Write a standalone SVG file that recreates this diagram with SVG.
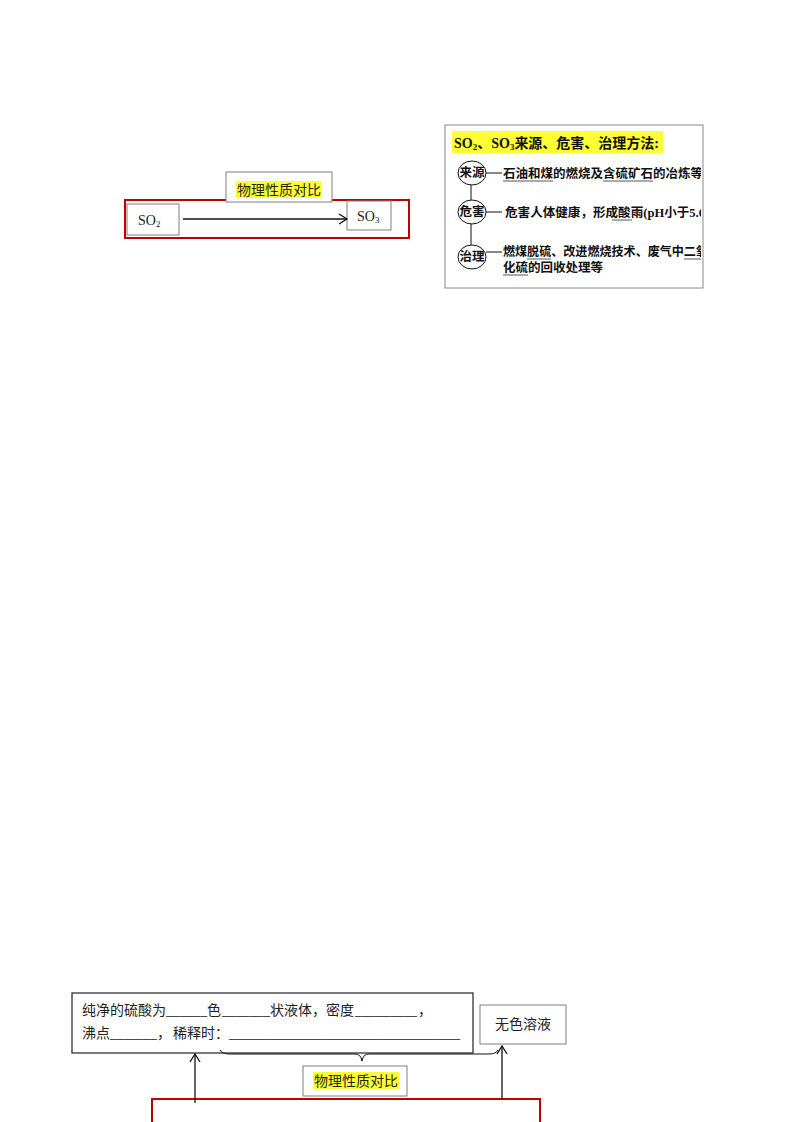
<svg xmlns="http://www.w3.org/2000/svg" width="794" height="1122" viewBox="0 0 794 1122">
<style>
.box{fill:#fff;stroke:#7f7f7f;stroke-width:1}
.dbox{fill:#fff;stroke:#333;stroke-width:1.3}
.red{fill:none;stroke:#c00000;stroke-width:2}
.hl{fill:#ffff33}
.t{font-family:"Liberation Serif","Noto Sans CJK SC",serif;font-size:14px;fill:#222}
.cjk{font-family:"Noto Sans CJK SC",sans-serif;font-size:14px;fill:#222}
.pt{font-family:"Liberation Serif","Noto Sans CJK SC",serif;font-size:12.5px;fill:#111;font-weight:600}
.ln{stroke:#111;stroke-width:1;fill:none}
.ul{stroke:#444;stroke-width:0.9}
.conn{stroke:#111;stroke-width:1.3;fill:none}
</style>
<defs>
<marker id="open" markerWidth="12" markerHeight="12" refX="10" refY="6" orient="auto" markerUnits="userSpaceOnUse">
<path d="M2,1 L10,6 L2,11" fill="none" stroke="#111" stroke-width="1.3"/>
</marker>
<clipPath id="pclip"><rect x="445" y="125" width="256" height="163"/></clipPath>
</defs>
<rect width="794" height="1122" fill="#fff"/>

<!-- top-left section -->
<g id="top-frame"><rect class="red" x="125" y="200" width="284" height="38"/></g>
<g id="top-label">
<rect class="box" x="226" y="172" width="106" height="30"/>
<rect class="hl" x="236" y="181" width="85" height="17"/>
<text class="cjk" x="279" y="195" text-anchor="middle">物理性质对比</text>
</g>
<g id="so2">
<rect class="box" x="127" y="204" width="52" height="31"/>
<text class="t" x="138" y="225" font-size="13" fill="#111">SO<tspan font-size="9" dy="2">2</tspan></text>
</g>
<g id="so3">
<rect class="box" x="347" y="201" width="44" height="29"/>
<text class="t" x="357" y="221" font-size="13" fill="#111">SO<tspan font-size="9" dy="2">3</tspan></text>
</g>
<g id="top-connectors">
<line class="conn" x1="183" y1="219" x2="347" y2="219" marker-end="url(#open)"/>
</g>

<!-- right panel -->
<g id="panel">
<rect x="445" y="125" width="258" height="163" fill="#fff" stroke="#888" stroke-width="1"/>
<rect class="hl" x="452" y="131" width="211" height="22"/>
<text x="454" y="148" font-family="Liberation Serif, 'Noto Sans CJK SC', serif" font-size="14" font-weight="bold" fill="#111">SO<tspan font-size="9" dy="2">2</tspan><tspan dy="-2">、SO</tspan><tspan font-size="9" dy="2">3</tspan><tspan dy="-2">来源、危害、治理方法:</tspan></text>
<g clip-path="url(#pclip)">
<line class="ln" x1="471" y1="184" x2="471" y2="200"/>
<line class="ln" x1="471" y1="223" x2="471" y2="245"/>
<g id="src">
<ellipse cx="472" cy="173" rx="14" ry="12" fill="#fff" stroke="#111"/>
<text class="pt" x="472" y="177" text-anchor="middle" font-size="11.5" font-weight="normal">来源</text>
<line class="ln" x1="486" y1="173" x2="502" y2="173"/>
<text class="pt" x="503" y="178">石油和煤的燃烧及含硫矿石的冶炼等</text>
<line class="ul" x1="503" y1="181" x2="553" y2="181"/>
<line class="ul" x1="603" y1="181" x2="653" y2="181"/>
</g>
<g id="harm">
<ellipse cx="472" cy="212" rx="14" ry="12" fill="#fff" stroke="#111"/>
<text class="pt" x="472" y="216" text-anchor="middle" font-size="11.5" font-weight="normal">危害</text>
<line class="ln" x1="486" y1="212" x2="502" y2="212"/>
<text class="pt" x="505" y="217" textLength="200" lengthAdjust="spacingAndGlyphs">危害人体健康，形成酸雨(pH小于5.6</text>
<line class="ul" x1="612" y1="220" x2="632" y2="220"/>
</g>
<g id="treat">
<ellipse cx="472" cy="257" rx="14" ry="12" fill="#fff" stroke="#111"/>
<text class="pt" x="472" y="261" text-anchor="middle" font-size="11.5" font-weight="normal">治理</text>
<line class="ln" x1="486" y1="252" x2="502" y2="252"/>
<text class="pt" x="503" y="256" textLength="205" lengthAdjust="spacingAndGlyphs">燃煤脱硫、改进燃烧技术、废气中二氧</text>
<text class="pt" x="503" y="272">化硫的回收处理等</text>
<line class="ul" x1="527" y1="259" x2="551" y2="259"/>
<line class="ul" x1="684" y1="259" x2="702" y2="259"/>
<line class="ul" x1="503" y1="275" x2="528" y2="275"/>
</g>
</g>
</g>

<!-- bottom section -->
<g id="sulfuric">
<rect class="dbox" x="72" y="993" width="401" height="60"/>
<text class="t" y="1015" fill="#333"><tspan x="82">纯净的硫酸为</tspan><tspan x="166" textLength="41" lengthAdjust="spacingAndGlyphs">______</tspan><tspan x="207">色</tspan><tspan x="222" textLength="48" lengthAdjust="spacingAndGlyphs">_______</tspan><tspan x="270">状液体，密度</tspan><tspan x="355" textLength="62" lengthAdjust="spacingAndGlyphs">_________</tspan><tspan x="418">，</tspan></text>
<text class="t" y="1038" fill="#333"><tspan x="82">沸点</tspan><tspan x="110" textLength="47" lengthAdjust="spacingAndGlyphs">_______</tspan><tspan x="157">，</tspan><tspan x="173">稀释时：</tspan><tspan x="229" textLength="231" lengthAdjust="spacingAndGlyphs">_________________________________</tspan></text>
</g>
<g id="colorless">
<rect class="box" x="480" y="1005" width="86" height="39"/>
<text class="cjk" x="523" y="1029" text-anchor="middle" fill="#333">无色溶液</text>
</g>
<g id="bottom-label">
<rect class="box" x="303" y="1066" width="104" height="30"/>
<rect class="hl" x="313" y="1072" width="86" height="17"/>
<text class="cjk" x="356" y="1086" text-anchor="middle">物理性质对比</text>
</g>
<g id="bottom-frame"><rect class="red" x="152" y="1099" width="388" height="40"/></g>
<g id="bottom-connectors">
<path class="ln" d="M220,1050 Q222,1054 230,1054 L355,1054 Q361,1054 362,1061 Q363,1054 369,1054 L489,1054 Q496,1054 498,1050" stroke-width="1.1"/>
<line class="conn" x1="195" y1="1103" x2="195" y2="1054" marker-end="url(#open)"/>
<line class="conn" x1="502" y1="1099" x2="502" y2="1046" marker-end="url(#open)"/>
</g>
</svg>
